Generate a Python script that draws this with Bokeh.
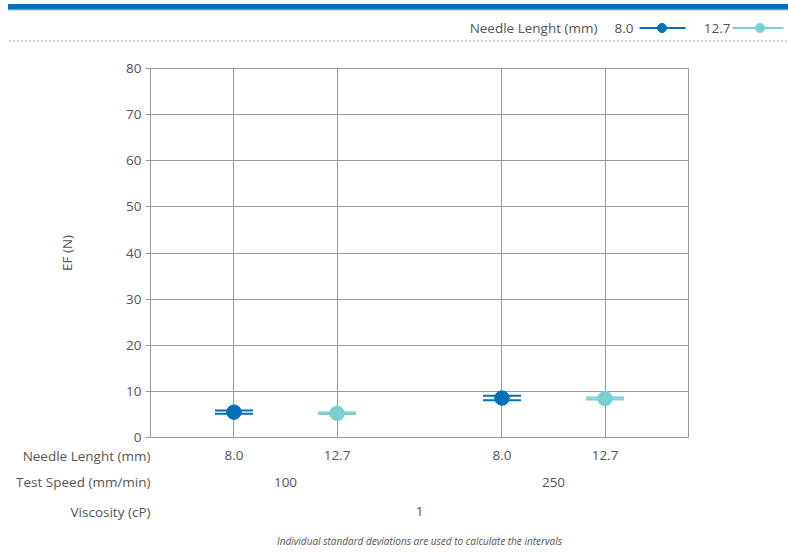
from bokeh.plotting import figure
from bokeh.layouts import column
from bokeh.models import (FactorRange, Range1d, Whisker, TeeHead, ColumnDataSource,
                          FixedTicker)
from bokeh.embed import file_html
from bokeh.resources import INLINE
from bokeh.core.properties import value

# ---- data ----
viscosity = "1"
speeds = ["100", "250"]
needles = ["8.0", "12.7"]
ef_mean_8 = [5.5, 8.55]
ef_mean_127 = [5.25, 8.45]
ef_half_8 = [0.37, 0.5]
ef_half_127 = [0.15, 0.2]
y_ticks = [0, 10, 20, 30, 40, 50, 60, 70, 80]
row_titles = ["Viscosity (cP)", "Test Speed (mm/min)", "Needle Lenght (mm)"]
legend_title = "Needle Lenght (mm)"
y_label = "EF (N)"
footnote = "Individual standard deviations are used to calculate the intervals"

series = {
    "8.0": (ef_mean_8, ef_half_8, "#0070BA"),
    "12.7": (ef_mean_127, ef_half_127, "#7ACFCF"),
}

FONT = "Open Sans"
TXT = "#555555"
GRID = "#9a9a9a"
FS = "13.5px"

W = 788
factors = [(viscosity, s, n) for s in speeds for n in needles]
x_range = FactorRange(*factors, subgroup_padding=0.6,
                      range_padding=0.31, range_padding_units="absolute")

# ---- header (legend) ----
hdr = figure(width=W, height=48, x_range=Range1d(0, W), y_range=Range1d(48, 0),
             x_axis_location=None, y_axis_location=None, min_border=0,
             outline_line_color=None, output_backend="svg", toolbar_location=None)
hdr.frame_align = False
hdr.grid.visible = False
hdr.quad(left=[8], right=[W], top=[4], bottom=[9], color="#0070BA")
hdr.segment(x0=[8], y0=[9.5], x1=[W], y1=[9.5], line_color="#A8D0EE", line_width=1)
hdr.segment(x0=[9], y0=[40.5], x1=[W], y1=[40.5], line_color="#8a8a8a",
            line_width=1.3, line_dash="1 3")
LY = 27.5
hdr.text(x=[597], y=[LY], text=[legend_title], text_font=value(FONT),
         text_font_size=FS, text_color=TXT, text_align="right", text_baseline="middle")
leg_pos = {"8.0": (633, 639, 685, 661.5), "12.7": (730, 732, 783, 759.5)}
for name, (m, h, c) in series.items():
    tx, l0, l1, dx = leg_pos[name]
    hdr.text(x=[tx], y=[LY], text=[name], text_font=value(FONT), text_font_size=FS,
             text_color=TXT, text_align="right", text_baseline="middle")
    hdr.segment(x0=[l0], y0=[LY], x1=[l1], y1=[LY], line_color=c, line_width=2)
    hdr.scatter(x=[dx], y=[LY], size=9, color=c)

# ---- main plot ----
p = figure(width=W, height=398, x_range=x_range, y_range=Range1d(0, 80),
           x_axis_location=None, min_border_left=150, min_border_right=100,
           min_border_top=20, min_border_bottom=9,
           output_backend="svg", toolbar_location=None)
p.outline_line_color = GRID
p.outline_line_width = 1
p.xgrid.grid_line_color = GRID
p.ygrid.grid_line_color = GRID
p.ygrid.ticker = FixedTicker(ticks=y_ticks)
ax = p.yaxis[0]
ax.ticker = FixedTicker(ticks=y_ticks)
ax.axis_line_color = GRID
ax.major_tick_line_color = GRID
ax.major_tick_out = 5
ax.major_tick_in = 0
ax.minor_tick_line_color = None
ax.major_label_standoff = 4
ax.major_label_text_font = FONT
ax.major_label_text_font_size = FS
ax.major_label_text_color = TXT
ax.axis_label = y_label
ax.axis_label_text_font = FONT
ax.axis_label_text_font_size = FS
ax.axis_label_text_font_style = "normal"
ax.axis_label_text_color = TXT
ax.axis_label_standoff = 47

for name, (m, h, c) in series.items():
    xs = [(viscosity, s, name) for s in speeds]
    src = ColumnDataSource(dict(x=xs, y=m,
                                upper=[a + b for a, b in zip(m, h)],
                                lower=[a - b for a, b in zip(m, h)]))
    w = Whisker(source=src, base="x", upper="upper", lower="lower", dimension="height",
                line_color=c, line_width=2,
                upper_head=TeeHead(size=38, line_color=c, line_width=2),
                lower_head=TeeHead(size=38, line_color=c, line_width=2),
                level="underlay")
    p.add_layout(w)
    p.scatter(x="x", y="y", source=src, size=14.5, color=c)

# ---- category label rows + footnote ----
# row positions (bottom to top): viscosity, test speed, needle length; the
# needle row sits slightly closer so it stays clear of the figure edge
row_y = [0, 1, 1.9]
note_y = -1
lab = figure(width=W, height=106, x_range=x_range, y_range=Range1d(-1.3729, 2.2203),
             x_axis_location=None, min_border_left=150, min_border_right=100,
             min_border_top=0, min_border_bottom=0, outline_line_color=None,
             output_backend="svg", toolbar_location=None)
lab.grid.visible = False
la = lab.yaxis[0]
la.ticker = FixedTicker(ticks=row_y)
la.major_label_overrides = {yv: t for yv, t in zip(row_y, row_titles)}
la.axis_line_color = None
la.major_tick_line_color = None
la.minor_tick_line_color = None
la.major_tick_out = 0
la.major_tick_in = 0
la.major_label_standoff = 0
la.major_label_text_font = FONT
la.major_label_text_font_size = FS
la.major_label_text_color = TXT

tk = dict(text_font=value(FONT), text_font_size=FS, text_color=TXT,
          text_align="center", text_baseline="middle")
lab.text(x=factors, y=[row_y[2]] * len(factors), text=[f[2] for f in factors], **tk)
lab.text(x=[(viscosity, s) for s in speeds], y=[row_y[1]] * len(speeds), text=speeds, **tk)
lab.text(x=[viscosity], y=[row_y[0]], text=[viscosity], **tk)
lab.text(x=[viscosity], y=[note_y], text=[footnote], text_font=value(FONT),
         text_font_size="10px", text_font_style="italic", text_color=TXT,
         text_align="center", text_baseline="middle")

layout = column(hdr, p, lab, spacing=0)
open("out.html", "w").write(file_html(layout, INLINE))
